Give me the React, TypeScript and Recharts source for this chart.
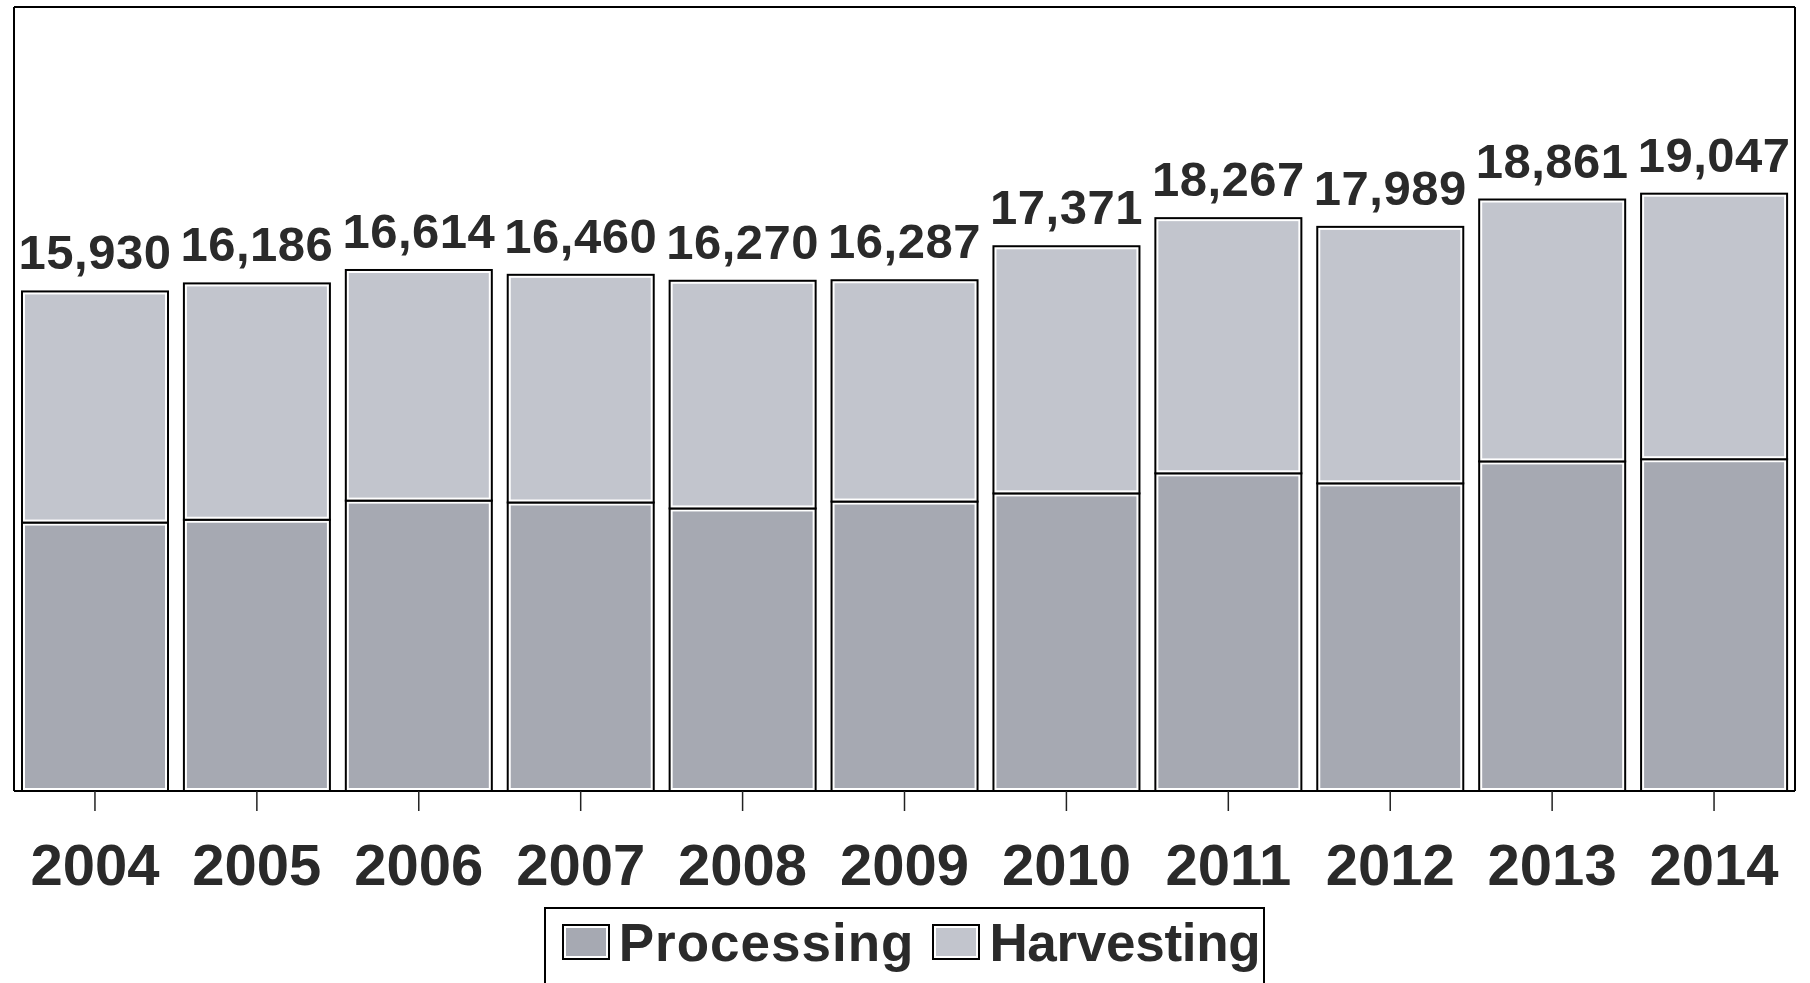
import React from "react"
import {
  BarChart,
  Bar,
  XAxis,
  YAxis,
  LabelList,
  Legend,
} from "recharts"

const years = ["2004", "2005", "2006", "2007", "2008", "2009", "2010", "2011", "2012", "2013", "2014"]
const totals = [15930, 16186, 16614, 16460, 16270, 16287, 17371, 18267, 17989, 18861, 19047]
const processing = [8560, 8650, 9260, 9200, 9010, 9230, 9490, 10130, 9810, 10510, 10580]
const seriesOrder = ["Processing", "Harvesting"]

const PROCESSING_FILL = "#a6a9b2"
const HARVESTING_FILL = "#c2c5cd"
const FONT = "'Liberation Sans', Arial, sans-serif"
const INK = "#2a2a2a"

const data = years.map((year, i) => ({
  year,
  processing: processing[i],
  harvesting: totals[i] - processing[i],
  total: totals[i],
}))

// outlined box with a thin white rim inside, like the scanned original
function boxShape(fill: string) {
  return (props: any) => {
    const { x, y, width, height } = props
    if (!height || height <= 0) return <g />
    return (
      <g>
        <rect x={x} y={y} width={width} height={height} fill="#fff" stroke="#000" strokeWidth={2} />
        <rect x={x + 3} y={y + 3} width={width - 6} height={height - 6} fill={fill} />
      </g>
    )
  }
}

// the legend box runs off the bottom of the page in the original
function LegendBox(props: any) {
  const items = [...(props.payload || [])].sort(
    (a: any, b: any) => seriesOrder.indexOf(a.value) - seriesOrder.indexOf(b.value)
  )
  return (
    <div style={{ width: "100%", height: 76, textAlign: "center" }}>
      <div
        style={{
          display: "inline-flex",
          alignItems: "center",
          boxSizing: "border-box",
          height: 84,
          border: "2px solid #000",
          padding: "0 3px 14px 16px",
          background: "#fff",
          fontFamily: FONT,
          fontWeight: 700,
          fontSize: 53,
          color: INK,
        }}
      >
        {items.map((it: any, i: number) => (
          <span
            key={it.value}
            style={{ display: "inline-flex", alignItems: "center", marginRight: i === 0 ? 18 : 0 }}
          >
            <svg width={48} height={36} style={{ marginRight: 9 }}>
              <rect x={1} y={1} width={46} height={34} fill="#fff" stroke="#000" strokeWidth={2} />
              <rect x={4} y={4} width={40} height={28} fill={it.color} />
            </svg>
            <span style={{ letterSpacing: i === 0 ? 1 : -0.3, lineHeight: 1 }}>{it.value}</span>
          </span>
        ))}
      </div>
    </div>
  )
}

export default function App() {
  return (
    <div
      style={{
        position: "absolute",
        left: 0,
        top: 0,
        width: 1810,
        height: 983,
        overflow: "hidden",
        background: "#fff",
      }}
    >
      <BarChart
        width={1810}
        height={983}
        data={data}
        margin={{ top: 6, right: 14, bottom: 0, left: 13 }}
        barCategoryGap={8}
      >
        <XAxis
          dataKey="year"
          interval={0}
          height={116}
          axisLine={{ stroke: "#000", strokeWidth: 2 }}
          tickLine={{ stroke: "#222", strokeWidth: 1.5 }}
          tickSize={20}
          tickMargin={33}
          tick={{ fill: INK, fontSize: 58, fontWeight: 700, fontFamily: FONT }}
        />
        <XAxis
          xAxisId="frameTop"
          dataKey="year"
          orientation="top"
          height={1}
          tick={false}
          tickLine={false}
          axisLine={{ stroke: "#000", strokeWidth: 2 }}
        />
        <YAxis
          domain={[0, 25000]}
          width={1}
          tick={false}
          tickLine={false}
          axisLine={{ stroke: "#000", strokeWidth: 2 }}
        />
        <YAxis
          yAxisId="frameRight"
          orientation="right"
          domain={[0, 25000]}
          width={1}
          tick={false}
          tickLine={false}
          axisLine={{ stroke: "#000", strokeWidth: 2 }}
        />
        <Bar
          dataKey="processing"
          name="Processing"
          stackId="a"
          fill={PROCESSING_FILL}
          shape={boxShape(PROCESSING_FILL)}
          isAnimationActive={false}
        />
        <Bar
          dataKey="harvesting"
          name="Harvesting"
          stackId="a"
          fill={HARVESTING_FILL}
          shape={boxShape(HARVESTING_FILL)}
          isAnimationActive={false}
        >
          <LabelList
            dataKey="total"
            position="top"
            offset={22}
            formatter={(v: any) => Number(v).toLocaleString("en-US")}
            style={{ fill: INK, fontSize: 49, fontWeight: 700, fontFamily: FONT, letterSpacing: 0.5 }}
          />
        </Bar>
        <Legend verticalAlign="bottom" align="center" content={<LegendBox />} />
      </BarChart>
    </div>
  )
}
